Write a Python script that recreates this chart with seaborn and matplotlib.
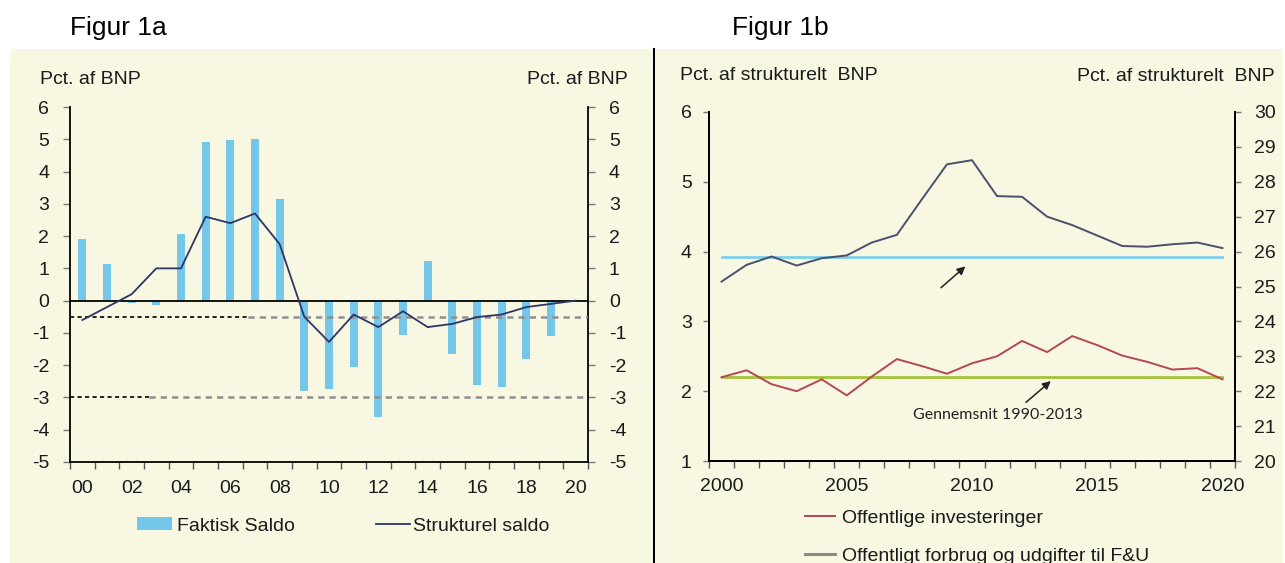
import numpy as np
import matplotlib.pyplot as plt
from matplotlib.patches import Rectangle, Patch
from matplotlib.lines import Line2D
import seaborn as sns

plt.rcParams['font.family'] = ['Liberation Sans', 'DejaVu Sans']
plt.rcParams['axes.unicode_minus'] = False

# Figur 1a data
years_a = list(range(2000, 2021))
faktisk = [1.9, 1.15, -0.07, -0.15, 2.05, 4.93, 4.98, 5.02, 3.15, -2.81, -2.73,
           -2.07, -3.61, -1.07, 1.24, -1.66, -2.61, -2.69, -1.82, -1.1, 0.0]
strukturel = [-0.6, -0.2, 0.2, 1.0, 1.0, 2.6, 2.4, 2.7, 1.75, -0.5, -1.28,
              -0.43, -0.82, -0.33, -0.82, -0.72, -0.51, -0.43, -0.2, -0.1, 0.0]
limits = [-0.5, -3.0]
limit_black_end = [2006.7, 2002.7]

# Figur 1b data
years_b = list(range(2000, 2021))
investeringer = [2.2, 2.3, 2.1, 2.0, 2.17, 1.94, 2.21, 2.46, 2.36, 2.25, 2.4,
                 2.5, 2.72, 2.56, 2.79, 2.66, 2.51, 2.42, 2.31, 2.33, 2.17]
forbrug = [25.14, 25.62, 25.86, 25.6, 25.81, 25.89, 26.26, 26.48, 27.5, 28.5, 28.62,
           27.59, 27.57, 27.0, 26.76, 26.46, 26.16, 26.14, 26.21, 26.26, 26.1]
avg_invest = 2.2
avg_forbrug = 25.85

W, H = 1285, 563
cream = '#F8F7E2'
bar_col = '#74C7E8'
navy = '#2E3566'
red = '#B4474F'
grey_blue = '#4A506C'
green = '#A3C43A'
sky = '#7DD0EA'
txt = '#1a1a1a'
fs = 14


def fx(px):
    return px / W


def fy(py):
    return 1 - py / H


fig = plt.figure(figsize=(W / 100, H / 100), dpi=100, facecolor='white')

# cream panels and divider
fig.patches.append(Rectangle((fx(10), 0), fx(642), fy(49), transform=fig.transFigure,
                             facecolor=cream, edgecolor='none', zorder=-10))
fig.patches.append(Rectangle((fx(656), 0), fx(627), fy(49), transform=fig.transFigure,
                             facecolor=cream, edgecolor='none', zorder=-10))
fig.add_artist(Line2D([fx(654), fx(654)], [0, fy(49)], color='black', lw=1.5))

fig.text(fx(70), fy(28), 'Figur 1a', fontsize=19, va='center', ha='left')
fig.text(fx(732), fy(28), 'Figur 1b', fontsize=19, va='center', ha='left')

# ---------------- Figur 1a ----------------
ax1 = fig.add_axes([fx(70), fy(462), fx(588 - 70), fy(107) - fy(462)])
ax1.set_facecolor('none')
sns.barplot(x=years_a, y=faktisk, native_scale=True, width=0.33, color=bar_col,
            saturation=1, errorbar=None, ax=ax1, zorder=2)
for lvl, end in zip(limits, limit_black_end):
    ax1.plot([years_a[0] - 0.5, end], [lvl, lvl], ls=(0, (2.5, 2)), color='black', lw=1.2, zorder=3)
    ax1.plot([end, years_a[-1] + 0.5], [lvl, lvl], ls=(0, (2.5, 2)), color='#8f8f8f', lw=1.8, zorder=3)
ax1.axhline(0, color='black', lw=1.3, zorder=3)
sns.lineplot(x=years_a, y=strukturel, color=navy, lw=1.3, ax=ax1, zorder=4)

ax1.set_xlim(years_a[0] - 0.5, years_a[-1] + 0.5)
ax1.set_ylim(-5, 6)
ax1.set_yticks(range(-5, 7))
ax1.set_xticks(years_a[::2])
ax1.set_xticklabels([f'{y % 100:02d}' for y in years_a[::2]])
ax1.set_xticks(np.arange(years_a[0] - 0.5, years_a[-1] + 1, 1), minor=True)
ax1.tick_params(axis='x', which='major', length=0, pad=13, labelsize=fs, labelcolor=txt)
ax1.tick_params(axis='x', which='minor', length=5, width=1, color='#555555', direction='out')
ax1.tick_params(axis='y', which='major', left=True, right=True, labelleft=True, labelright=True,
                length=5, width=1, color='#777777', pad=10, labelsize=fs, labelcolor=txt)
for s in ['left', 'right', 'bottom']:
    ax1.spines[s].set_linewidth(1.3)
    ax1.spines[s].set_color('black')
ax1.spines['top'].set_visible(False)
ax1.set_xlabel('')
ax1.set_ylabel('')

fig.text(fx(40), fy(79), 'Pct. af BNP', fontsize=fs, va='center', ha='left', color=txt)
fig.text(fx(628), fy(79), 'Pct. af BNP', fontsize=fs, va='center', ha='right', color=txt)

fsp = fs * 100 / 72
fig.legend(handles=[Patch(facecolor=bar_col, edgecolor='none')], labels=['Faktisk Saldo'],
           loc='center left', bbox_to_anchor=(fx(137), fy(526)), frameon=False,
           borderpad=0, borderaxespad=0, handlelength=35 / fsp, handleheight=12 / fsp,
           handletextpad=5 / fsp, fontsize=fs, labelcolor=txt)
fig.legend(handles=[Line2D([], [], color=navy, lw=1.3)], labels=['Strukturel saldo'],
           loc='center left', bbox_to_anchor=(fx(376), fy(526)), frameon=False,
           borderpad=0, borderaxespad=0, handlelength=34 / fsp,
           handletextpad=3 / fsp, fontsize=fs, labelcolor=txt)

# ---------------- Figur 1b ----------------
ax2 = fig.add_axes([fx(709), fy(461), fx(1235 - 709), fy(112) - fy(461)])
ax2.set_facecolor('none')
ax2.plot([years_b[0], years_b[-1]], [avg_invest, avg_invest], color=green, lw=2, zorder=2)
sns.lineplot(x=years_b, y=investeringer, color=red, lw=1.4, ax=ax2, zorder=3)
ax2.set_xlim(years_b[0] - 0.5, years_b[-1] + 0.5)
ax2.set_ylim(1, 6)
ax2.set_yticks(range(1, 7))
ax2.set_xticks(years_b[::5])
ax2.set_xticklabels([str(y) for y in years_b[::5]])
ax2.set_xticks(np.arange(years_b[0] - 0.5, years_b[-1] + 1, 1), minor=True)
ax2.tick_params(axis='x', which='major', length=0, pad=12, labelsize=fs, labelcolor=txt)
ax2.tick_params(axis='x', which='minor', length=5, width=1, color='#555555', direction='out')
ax2.tick_params(axis='y', length=4, width=1, color='#777777', pad=8.5, labelsize=fs, labelcolor=txt)
ax2.set_xlabel('')
ax2.set_ylabel('')

ax2r = ax2.twinx()
ax2r.plot([years_b[0], years_b[-1]], [avg_forbrug, avg_forbrug], color=sky, lw=2, zorder=2)
sns.lineplot(x=years_b, y=forbrug, color=grey_blue, lw=1.4, ax=ax2r, zorder=3)
ax2r.set_ylim(20, 30)
ax2r.set_yticks(range(20, 31))
ax2r.tick_params(axis='y', length=4, width=1, color='#777777', pad=10, labelsize=fs, labelcolor=txt)
ax2r.set_ylabel('')
for a in (ax2, ax2r):
    for s in ['left', 'right', 'bottom']:
        a.spines[s].set_linewidth(1.3)
        a.spines[s].set_color('black')
    a.spines['top'].set_visible(False)

ax2.annotate('', xy=(2009.82, 3.814), xytext=(2008.68, 3.457),
             arrowprops=dict(arrowstyle='-|>', color='#222222', lw=1.1, mutation_scale=12))
ax2.annotate('', xy=(2013.23, 2.171), xytext=(2012.07, 1.814),
             arrowprops=dict(arrowstyle='-|>', color='#222222', lw=1.1, mutation_scale=12))
ax2.text(2011.04, 1.657, 'Gennemsnit 1990-2013', fontsize=11.5, family=['Lato', 'DejaVu Sans'],
         ha='center', va='center', color='#222222')

fig.text(fx(680), fy(76), 'Pct. af strukturelt  BNP', fontsize=fs, va='center', ha='left', color=txt)
fig.text(fx(1275), fy(77), 'Pct. af strukturelt  BNP', fontsize=fs, va='center', ha='right', color=txt)

fig.legend(handles=[Line2D([], [], color=red, lw=1.4), Line2D([], [], color='#8a8a8a', lw=2.2)],
           labels=['Offentlige investeringer', 'Offentligt forbrug og udgifter til F&U'],
           loc='upper left', bbox_to_anchor=(fx(805), fy(509)), frameon=False,
           borderpad=0, borderaxespad=0, handlelength=30 / fsp, handletextpad=7 / fsp,
           labelspacing=1.06, fontsize=fs, labelcolor=txt)

fig.savefig('out.png', dpi=100, facecolor='white')
